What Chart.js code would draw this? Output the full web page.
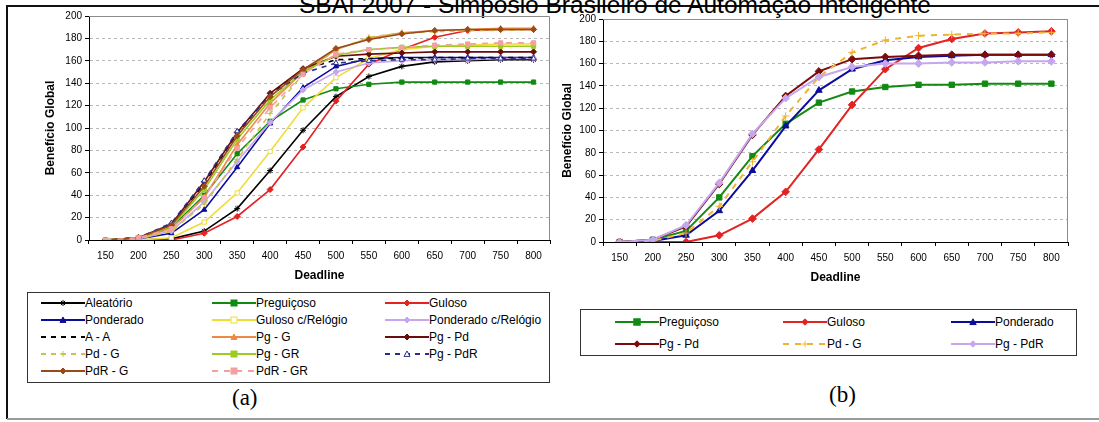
<!DOCTYPE html>
<html>
<head>
<meta charset="utf-8">
<script src="https://cdn.jsdelivr.net/npm/chart.js@4/dist/chart.umd.min.js"></script>
<style>
  body { margin:0; background:#fff; }
  #page { position:relative; width:1099px; height:422px; overflow:hidden; font-family:"Liberation Sans", Arial, sans-serif; }
  .abs { position:absolute; }
  #frameTop { left:7px; top:5px; width:1092px; height:2px; background:#111; }
  #frameLeft { left:6px; top:5px; width:2px; height:414px; background:#111; }
  #frameBottom { left:7px; top:418px; width:1092px; height:2px; background:#9a9a9a; }
  #title { left:0; top:-9px; width:1230px; text-align:center; font-size:24.5px; line-height:28px; white-space:nowrap; color:#000; }
  .legend { border:1px solid #333; box-sizing:border-box; background:#fff; }
  .item { position:absolute; height:14px; font-size:12px; line-height:14px; white-space:nowrap; color:#000; }
  .item svg { position:absolute; left:0; top:0; }
  .item span { position:absolute; top:0; }
  .cap { font-family:"Liberation Serif", "Times New Roman", serif; font-size:23px; line-height:26px; color:#000; }
</style>
</head>
<body>
<div id="page">
  <div id="frameTop" class="abs"></div>
  <div id="frameLeft" class="abs"></div>
  <div id="frameBottom" class="abs"></div>
  <div id="title" class="abs">SBAI 2007 - Simpósio Brasileiro de Automação Inteligente</div>
  <canvas id="chartA" class="abs" style="left:30px;top:6px" width="530" height="282"></canvas>
  <canvas id="chartB" class="abs" style="left:545px;top:6px" width="535" height="284"></canvas>
  <div id="legendA" class="abs legend" style="left:27px;top:292px;width:523px;height:91px"></div>
  <div id="legendB" class="abs legend" style="left:580px;top:309px;width:497px;height:47px"></div>
  <div class="abs cap" style="left:232px;top:385px">(a)</div>
  <div class="abs cap" style="left:829px;top:382px">(b)</div>
</div>
<script>
// eixo x: deadlines
const deadlines = ['150', '200', '250', '300', '350', '400', '450', '500', '550', '600', '650', '700', '750', '800'];
const yMin = 0, yMax = 200, yStep = 20;

// (a) todas as estrategias
const aleatorio    = [0, 0, 1, 8, 28, 62, 98, 128, 146, 155, 159, 160, 161, 161];
const preguicoso   = [0, 2, 11, 40, 77, 106, 125, 135, 139, 141, 141, 141, 141, 141];
const guloso       = [0, 0, 0, 6, 21, 45, 83, 124, 157, 170, 181, 187, 188, 188];
const ponderado    = [0, 1, 6, 27, 65, 104, 136, 155, 162, 163, 163, 163, 163, 163];
const gulosoRel    = [0, 0, 2, 16, 42, 79, 118, 145, 162, 170, 173, 174, 175, 175];
const ponderadoRel = [0, 1, 8, 34, 70, 105, 134, 150, 158, 160, 161, 161, 162, 162];
const aA           = [0, 2, 14, 50, 95, 130, 152, 161, 162, 162, 163, 163, 163, 163];
const pgG          = [0, 2, 10, 38, 85, 122, 150, 170, 180, 185, 187, 188, 189, 189];
const pgPd         = [0, 2, 14, 52, 96, 131, 153, 164, 166, 167, 168, 168, 168, 168];
const pdG          = [0, 1, 8, 32, 72, 113, 148, 170, 181, 185, 186, 187, 187, 188];
const pgGR         = [0, 2, 12, 45, 90, 125, 150, 165, 170, 172, 173, 173, 173, 173];
const pgPdR        = [0, 2, 15, 53, 97, 129, 149, 158, 160, 161, 161, 162, 162, 162];
const pdrG         = [0, 2, 13, 48, 93, 128, 152, 171, 179, 184, 187, 188, 188, 188];
const pdrGR        = [0, 2, 10, 38, 82, 118, 148, 166, 170, 172, 174, 175, 176, 176];

// (b) selecao
const preguicosoB = [0, 2, 10, 40, 77, 106, 125, 135, 139, 141, 141, 142, 142, 142];
const gulosoB     = [0, 0, 0, 6, 21, 45, 83, 123, 155, 174, 182, 187, 188, 189];
const ponderadoB  = [0, 1, 6, 28, 64, 104, 136, 155, 163, 166, 167, 168, 168, 168];
const pgPdB       = [0, 2, 14, 52, 96, 131, 153, 164, 166, 167, 168, 168, 168, 168];
const pdGB        = [0, 1, 8, 32, 72, 113, 148, 170, 181, 185, 186, 187, 187, 188];
const pgPdRB      = [0, 2, 15, 53, 97, 129, 148, 157, 160, 160, 161, 161, 162, 162];

const FONT = "'Liberation Sans', Arial, sans-serif";

const seriesA = [
  {label: 'Aleatório', data: aleatorio, color: '#000000', style: 'star'},
  {label: 'Preguiçoso', data: preguicoso, color: '#128a12', style: 'rect'},
  {label: 'Guloso', data: guloso, color: '#e32222', style: 'rectRot'},
  {label: 'Ponderado', data: ponderado, color: '#0c0c9c', style: 'triangle'},
  {label: 'Guloso c/Relógio', data: gulosoRel, color: '#f2dc3a', style: 'rect', open: true},
  {label: 'Ponderado c/Relógio', data: ponderadoRel, color: '#c6a6ee', style: 'rectRot'},
  {label: 'A - A', data: aA, color: '#000000', style: false, dash: [5, 5]},
  {label: 'Pg - G', data: pgG, color: '#ee8844', style: 'triangle'},
  {label: 'Pg - Pd', data: pgPd, color: '#6a0c0c', style: 'rectRot'},
  {label: 'Pd - G', data: pdG, color: '#c8c44a', style: 'cross', dash: [5, 5]},
  {label: 'Pg - GR', data: pgGR, color: '#9ccc22', style: 'rect'},
  {label: 'Pg - PdR', data: pgPdR, color: '#2c2c8c', style: 'triangle', open: true, dash: [5, 5]},
  {label: 'PdR - G', data: pdrG, color: '#9a4a16', style: 'rectRot'},
  {label: 'PdR - GR', data: pdrGR, color: '#f4a0a0', style: 'rect', dash: [6, 6]}
];

const seriesB = [
  {label: 'Preguiçoso', data: preguicosoB, color: '#128a12', style: 'rect'},
  {label: 'Guloso', data: gulosoB, color: '#e32222', style: 'rectRot'},
  {label: 'Ponderado', data: ponderadoB, color: '#0c0c9c', style: 'triangle'},
  {label: 'Pg - Pd', data: pgPdB, color: '#7a0c0c', style: 'rectRot'},
  {label: 'Pd - G', data: pdGB, color: '#f0b434', style: 'cross', dash: [6, 6]},
  {label: 'Pg - PdR', data: pgPdRB, color: '#c6a6ee', style: 'rectRot'}
];

function toDatasets(series, radius, width) {
  return series.map((s, i) => ({
    label: s.label,
    data: s.data,
    borderColor: s.color,
    backgroundColor: s.color,
    borderWidth: width,
    borderDash: s.dash || [],
    pointStyle: s.style,
    pointRadius: s.style ? radius : 0,
    pointBorderColor: s.color,
    pointBackgroundColor: s.open ? '#ffffff' : s.color,
    pointBorderWidth: 1,
    fill: false,
    tension: 0,
    order: series.length - i   // excel desenha a ultima serie por cima
  }));
}

// moldura cinza (topo e direita) da area do grafico
const plotFrame = {
  id: 'plotFrame',
  beforeDatasetsDraw(chart) {
    const a = chart.chartArea, ctx = chart.ctx;
    ctx.save();
    ctx.strokeStyle = '#8c8c8c';
    ctx.lineWidth = 1;
    ctx.beginPath();
    ctx.moveTo(a.left, a.top + 0.5);
    ctx.lineTo(a.right - 0.5, a.top + 0.5);
    ctx.lineTo(a.right - 0.5, a.bottom);
    ctx.stroke();
    ctx.restore();
  }
};

function makeOptions(p) {
  return {
    responsive: false,
    animation: false,
    layout: {padding: {top: p.top, right: p.right, left: 0, bottom: 0}},
    plugins: {legend: {display: false}, tooltip: {enabled: false}},
    scales: {
      x: {
        offset: true,
        grid: {offset: true, drawOnChartArea: false, drawTicks: true, tickLength: 4, color: '#000', tickColor: '#000'},
        border: {color: '#000', width: 1},
        ticks: {color: '#000', font: {family: FONT, size: 10}, padding: 6, maxRotation: 0, autoSkip: false},
        title: {display: true, text: 'Deadline', color: '#000', font: {family: FONT, size: 12, weight: 'bold'}, padding: {top: 0, bottom: 5}},
        afterFit: s => { s.height = 48; }
      },
      y: {
        min: yMin, max: yMax,
        grid: {color: '#b8b8b8', tickColor: '#000', tickLength: 4, lineWidth: 1},
        border: {color: '#000', width: 1, dash: [3, 3]},
        ticks: {stepSize: yStep, color: '#000', font: {family: FONT, size: 10}, padding: 3},
        title: {display: true, text: 'Benefício Global', color: '#000', font: {family: FONT, size: 12, weight: 'bold'}, padding: {top: p.ytitle, bottom: 0}},
        afterFit: s => { s.width = p.yw; }
      }
    }
  };
}

new Chart(document.getElementById('chartA'), {
  type: 'line',
  data: {labels: deadlines, datasets: toDatasets(seriesA, 3, 1.6)},
  options: makeOptions({top: 10, right: 10, yw: 59, ytitle: 13}),
  plugins: [plotFrame]
});

new Chart(document.getElementById('chartB'), {
  type: 'line',
  data: {labels: deadlines, datasets: toDatasets(seriesB, 3.8, 2)},
  options: makeOptions({top: 13, right: 12, yw: 58, ytitle: 15}),
  plugins: [plotFrame]
});

// legenda em caixa, 3 colunas, como no excel
function markerSvg(s, cx, cy, r) {
  const fill = s.open ? '#fff' : s.color;
  const st = `stroke="${s.color}" stroke-width="1"`;
  switch (s.style) {
    case 'rect':
      return `<rect x="${cx - r}" y="${cy - r}" width="${2 * r}" height="${2 * r}" fill="${fill}" ${st}/>`;
    case 'rectRot':
      return `<polygon points="${cx},${cy - r} ${cx + r},${cy} ${cx},${cy + r} ${cx - r},${cy}" fill="${fill}" ${st}/>`;
    case 'triangle':
      return `<polygon points="${cx},${cy - r} ${cx + r},${cy + r * 0.8} ${cx - r},${cy + r * 0.8}" fill="${fill}" ${st}/>`;
    case 'cross':
      return `<path d="M${cx - r} ${cy}H${cx + r}M${cx} ${cy - r}V${cy + r}" ${st}/>`;
    case 'star':
      return `<path d="M${cx - r} ${cy}H${cx + r}M${cx} ${cy - r}V${cy + r}M${cx - r * 0.7} ${cy - r * 0.7}L${cx + r * 0.7} ${cy + r * 0.7}M${cx - r * 0.7} ${cy + r * 0.7}L${cx + r * 0.7} ${cy - r * 0.7}" ${st}/>`;
  }
  return '';
}

function buildLegend(el, series, cfg) {
  series.forEach((s, i) => {
    const c = i % 3, r = Math.floor(i / 3);
    const d = document.createElement('div');
    d.className = 'item';
    d.style.left = cfg.cols[c] + 'px';
    d.style.top = (cfg.rows[r] - 7) + 'px';
    const dash = s.dash ? `stroke-dasharray="${s.dash.join(',')}"` : '';
    d.innerHTML =
      `<svg width="${cfg.sw}" height="14"><line x1="0" y1="7" x2="${cfg.sw}" y2="7" stroke="${s.color}" stroke-width="${cfg.lw}" ${dash}/>` +
      markerSvg(s, cfg.sw / 2, 7, cfg.mr) + `</svg><span style="left:${cfg.sw}px">${s.label}</span>`;
    el.appendChild(d);
  });
}

buildLegend(document.getElementById('legendA'), seriesA,
  {cols: [13, 184, 357], rows: [10, 27, 44, 61, 78], sw: 44, lw: 2, mr: 3});
buildLegend(document.getElementById('legendB'), seriesB,
  {cols: [34, 202, 370], rows: [12, 34], sw: 44, lw: 2, mr: 3.2});
</script>
</body>
</html>
